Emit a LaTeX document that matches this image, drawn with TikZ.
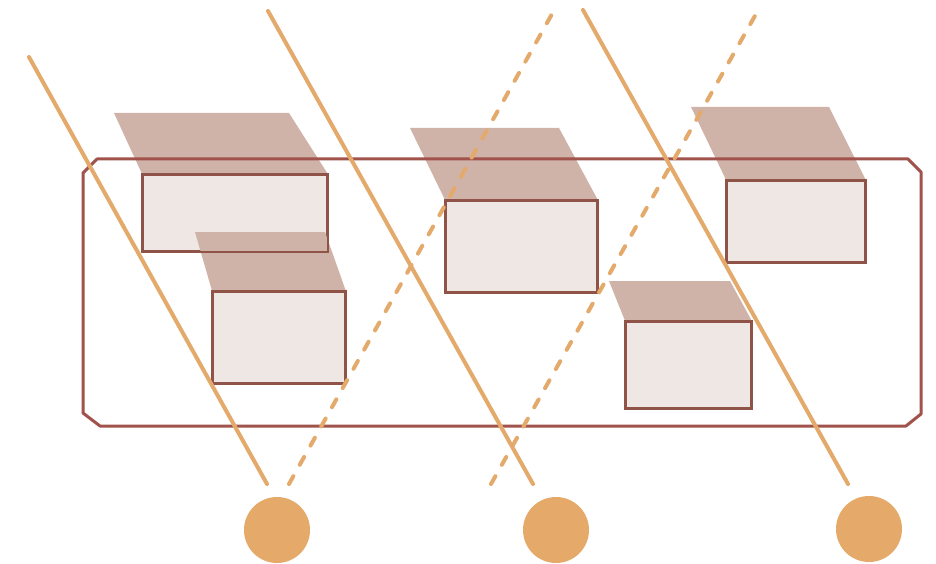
\documentclass[tikz,border=0pt]{standalone}
\definecolor{framec}{HTML}{A0524B}
\definecolor{borderc}{HTML}{8F5447}
\definecolor{boxc}{HTML}{EEE7E4}
\definecolor{shadowc}{HTML}{D0B3A8}
\definecolor{rayc}{HTML}{E4AA6C}
\definecolor{dotc}{HTML}{E5AA6A}
\begin{document}
\begin{tikzpicture}[x=1pt,y=-1pt,
  frameline/.style={draw=framec, line width=3pt, line join=round},
  shadowpar/.style={fill=shadowc},
  boxnode/.style={rectangle, draw=borderc, fill=boxc, line width=1.8pt, inner sep=0pt},
  boxborder/.style={draw=borderc, line width=1.8pt},
  ray/.style={draw=rayc, line width=4pt, line cap=round},
  dashray/.style={ray, dash pattern=on 9pt off 13pt},
  dot/.style={circle, fill=dotc, minimum size=66pt, inner sep=0pt}]
\useasboundingbox (0,0) rectangle (936,564);
\fill[white] (0,0) rectangle (936,564);

% box 1 and shadow
\node[boxnode, minimum width=184pt, minimum height=76pt] (b1) at (235,213) {};
\fill[shadowpar] (114,113) -- (289,113) -- (b1.north east) -- (b1.north west) -- cycle;
\node[boxnode, minimum width=184pt, minimum height=76pt] (b1) at (235,213) {};
% box 2 and shadow
\coordinate (s2a) at (195,232);
\coordinate (s2b) at (325,232);
\node[boxnode, minimum width=132pt, minimum height=91pt] (b2) at (279,337.5) {};
\fill[shadowpar] (s2a) -- (s2b) -- (b2.north east) -- (b2.north west) -- cycle;
\draw[boxborder] (b1.north west) rectangle (b1.south east);
% box 3
\node[boxnode, minimum width=151pt, minimum height=91pt] (b3) at (521.5,246.5) {};
\fill[shadowpar] (410,128) -- (559,128) -- (b3.north east) -- (b3.north west) -- cycle;
\draw[boxborder] (b3.north west) rectangle (b3.south east);
% box 4
\node[boxnode, minimum width=138pt, minimum height=81pt] (b4) at (796,221.5) {};
\fill[shadowpar] (691,107) -- (829,107) -- (b4.north east) -- (b4.north west) -- cycle;
\draw[boxborder] (b4.north west) rectangle (b4.south east);
% box 5
\node[boxnode, minimum width=125pt, minimum height=86pt] (b5) at (688.5,365) {};
\fill[shadowpar] (609,281) -- (730,281) -- (b5.north east) -- (b5.north west) -- cycle;
\draw[boxborder] (b5.north west) rectangle (b5.south east);
\draw[boxborder] (b2.north west) rectangle (b2.south east);

% frame
\draw[frameline] (97,159) -- (908,159) -- (921,172) -- (921,414) -- (906,426)
  -- (100,426) -- (83,413) -- (83,173) -- cycle;

% rays
\coordinate (a1) at (29,57);   \coordinate (a2) at (267,484);
\coordinate (r1) at (268,11);  \coordinate (r2) at (533,484);
\coordinate (q1) at (583,10);  \coordinate (q2) at (848,484);
\coordinate (d1) at (289,484); \coordinate (d2) at (552,14);
\coordinate (e1) at (491,484); \coordinate (e2) at (756,14);
\draw[ray] (a1) -- (a2);
\draw[ray] (r1) -- (r2);
\draw[ray] (q1) -- (q2);
\draw[dashray] (d1) -- (d2);
\draw[dashray] (e1) -- (e2);

% dots
\node[dot] (c1) at (277,530) {};
\node[dot] (c2) at (556,530) {};
\node[dot] (c3) at (869,529) {};
\end{tikzpicture}
\end{document}
